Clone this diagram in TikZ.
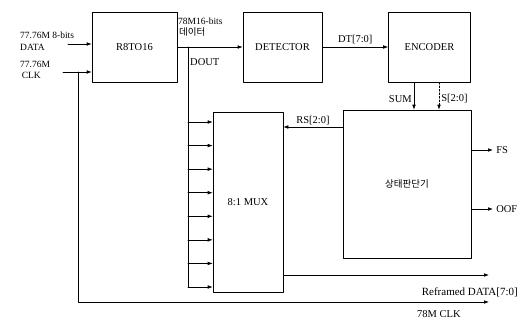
\documentclass[tikz,border=0pt]{standalone}
\usepackage{fontspec}
\setmainfont{Liberation Serif}
\newfontfamily\krfont{Noto Sans CJK KR}
\usepackage{tikz}
\usetikzlibrary{arrows.meta}
\usetikzlibrary{calc}
\usetikzlibrary{positioning}
\tikzset{
	>={Latex[length=5pt,width=3.6pt]},
	blockbox/.style={draw=black, line width=0.6pt, inner sep=0pt},
	wire/.style={black, line width=0.6pt},
	sigwire/.style={black, line width=0.6pt, ->},
	sigtext/.style={font=\fontsize{10.5}{12}\selectfont, inner sep=1pt},
	smalltext/.style={font=\fontsize{9.5}{11.5}\selectfont, inner sep=1pt},
	krtext/.style={font=\krfont\fontsize{9.5}{11}\selectfont, inner sep=1pt},
}

\begin{document}
\begin{tikzpicture}[x=1pt, y=-1pt, line cap=round, line join=round]
		
		\useasboundingbox (0,0) rectangle (521,321);
		
		% ---- Blocks ----
		\node[blockbox, minimum width=85pt, minimum height=70pt, sigtext] (r8) at (134.5,47) {R8TO16};
		\node[blockbox, minimum width=79pt, minimum height=70pt, sigtext] (det) at (282.5,47) {DETECTOR};
		\node[blockbox, minimum width=82pt, minimum height=70pt, sigtext] (enc) at (429.5,47) {ENCODER};
		\node[blockbox, minimum width=70pt, minimum height=180pt, sigtext] (mux) at (248,202) {8:1 MUX};
		\node[blockbox, minimum width=128pt, minimum height=148pt, krtext] (st) at (407,184) {상태판단기};
		
		% ---- Inputs ----
		\coordinate (datain) at (68,44);
		\coordinate (clkin) at (63,72);
		\coordinate (clkx) at (78,72);
		\node[smalltext, align=left, anchor=west] (datalbl) at (19,41) {77.76M 8-bits\\DATA};
		\node[smalltext, align=left, anchor=west] (clklbl) at (19,70) {77.76M\\\,CLK};
		\draw[sigwire] (datain) -- (datain -| r8.west);
		\draw[sigwire] (clkin) -- (clkin -| r8.west);
		
		% ---- R8TO16 -> DETECTOR, with DOUT tap ----
		\draw[sigwire] (r8.east) -- (det.west);
		\coordinate (tap) at (r8.east -| 188,0);
		\node[smalltext, anchor=south west] (d16) at (177,26) {78M16-bits};
		\node[krtext, anchor=north west] (dkr) at (178,26) {데이터};
		\node[sigtext, anchor=west] (dout) at (189,62) {DOUT};
		\draw[wire] (tap) -- (188,287);
		\foreach \k in {0,...,7}
			\draw[sigwire] (188,{122+\k*23.57}) -- (mux.west |- 0,{122+\k*23.57});
		
		% ---- DETECTOR -> ENCODER ----
		\draw[sigwire] (det.east) -- (enc.west) node[midway, above=2pt, sigtext] (dt) {DT[7:0]};
		
		% ---- ENCODER -> state block ----
		\coordinate (sumx) at (414,0);
		\coordinate (selx) at (439,0);
		\draw[sigwire] (enc.south -| sumx) -- (st.north -| sumx) node[pos=0.6, left=1pt, sigtext] (sumlbl) {SUM};
		\draw[sigwire, dashed, dash pattern=on 2pt off 1.5pt] (enc.south -| selx) -- (st.north -| selx) node[pos=0.6, right=1pt, sigtext] (sellbl) {S[2:0]};
		
		% ---- state block -> MUX ----
		\coordinate (rsy) at (0,127);
		\draw[sigwire] (st.west |- rsy) -- (mux.east |- rsy) node[midway, above=1pt, sigtext] (rslbl) {RS[2:0]};
		
		% ---- Outputs ----
		\coordinate (fsend) at (493,150);
		\coordinate (oofend) at (493,209);
		\draw[sigwire] (st.east |- fsend) -- (fsend) node[right=2pt, sigtext] (fs) {FS};
		\draw[sigwire] (st.east |- oofend) -- (oofend) node[right=2pt, sigtext] (oof) {OOF};
		\coordinate (muxout) at (489,275);
		\draw[sigwire] (mux.east |- muxout) -- (muxout);
		\node[font=\fontsize{11}{13}\selectfont, inner sep=1pt, anchor=east] (rdata) at (519,292) {Reframed DATA[7:0]};
		
		% ---- Clock line ----
		\coordinate (clkend) at (489,302);
		\draw[sigwire] (clkx) -- (clkx |- clkend) -- (clkend);
		\node[sigtext, anchor=west] (clk78) at (416,314) {78M CLK};
		
	\end{tikzpicture}
\end{document}
